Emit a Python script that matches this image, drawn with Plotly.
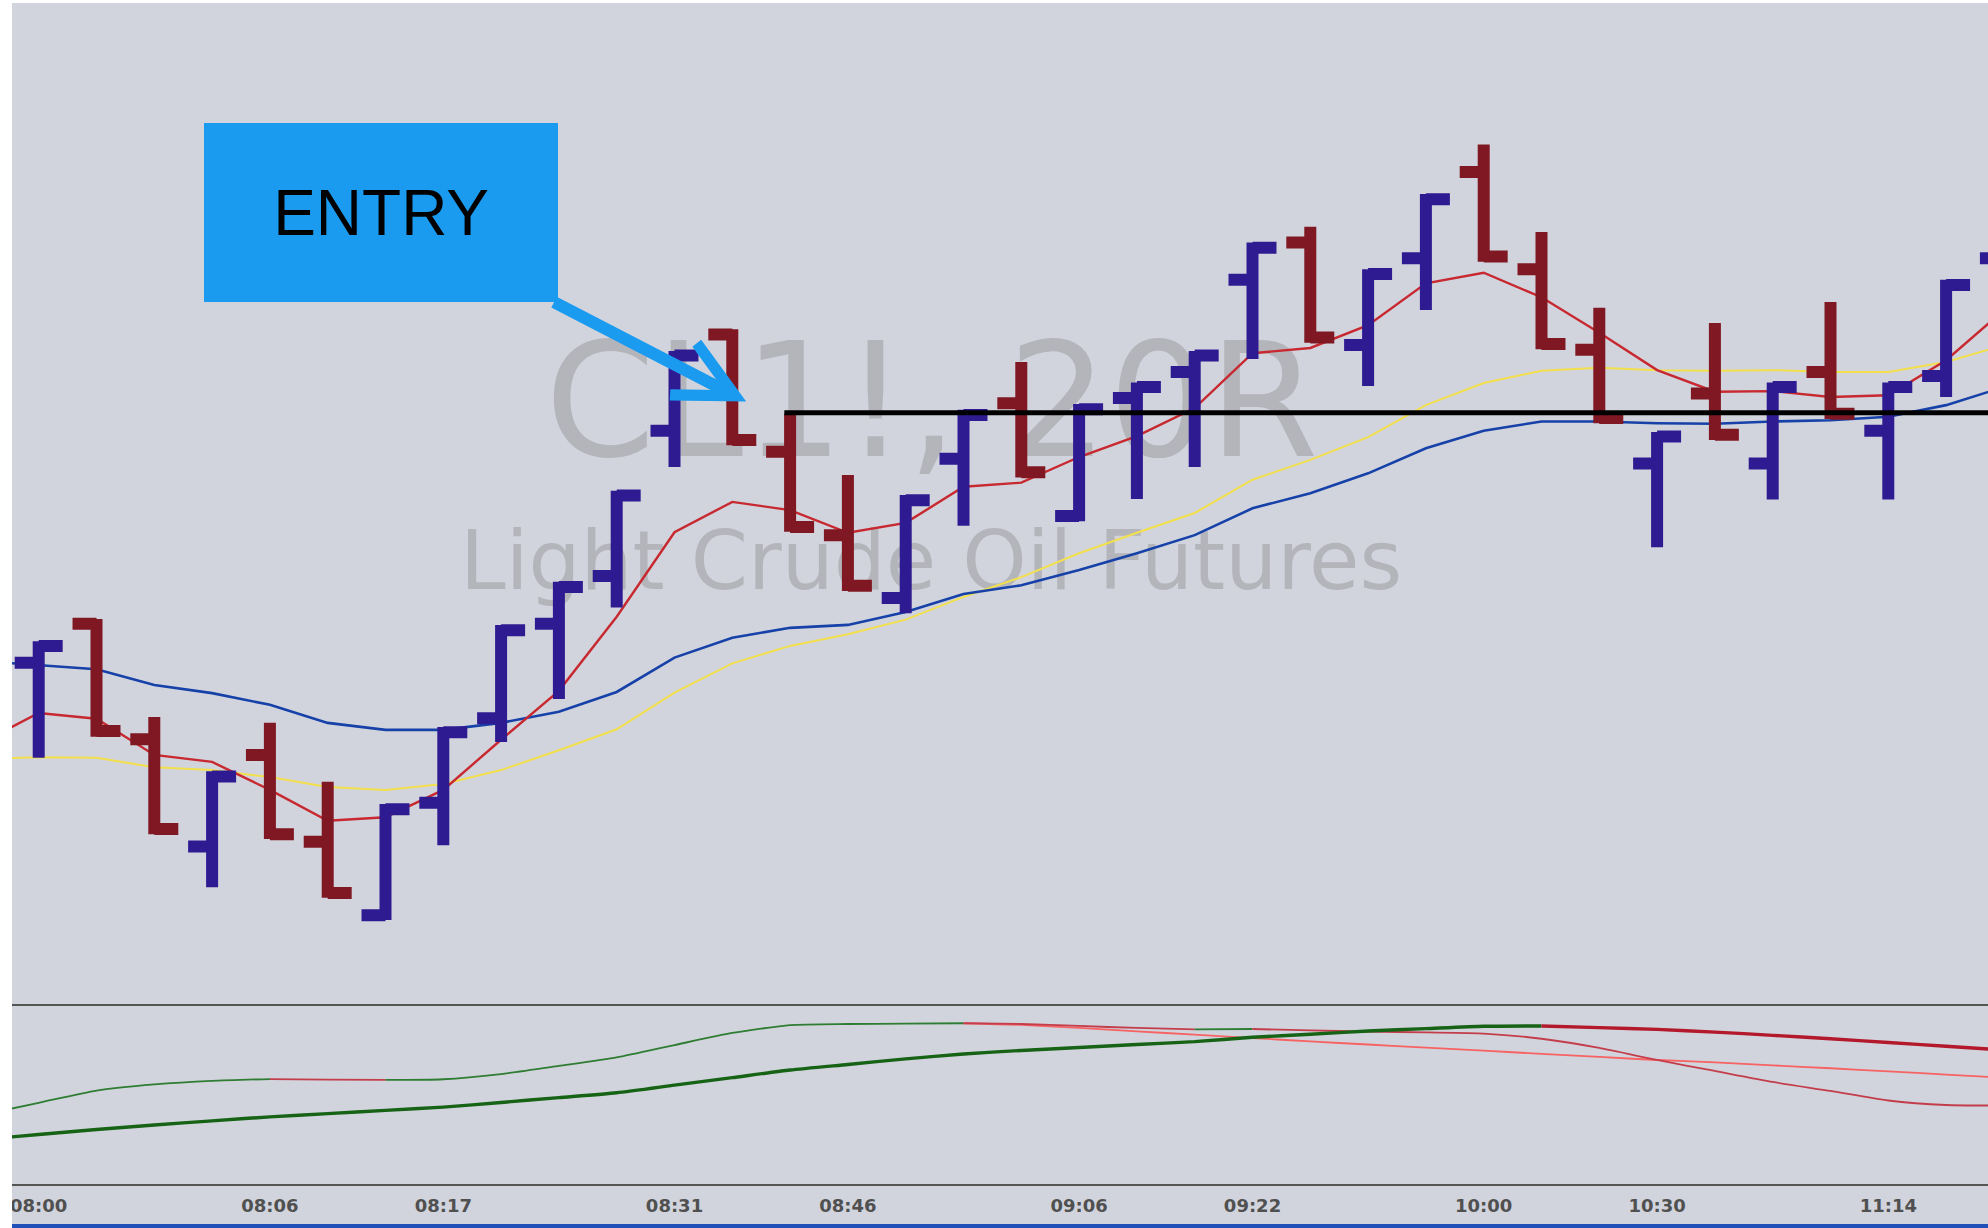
import plotly.graph_objects as go

# ---------------- data ----------------
bar_index = list(range(35))
opens = [59.571, 59.638, 59.440, 59.256, 59.413, 59.264, 59.138, 59.331, 59.476, 59.638,
         59.720, 59.969, 60.134, 59.933, 59.790, 59.682, 59.921, 60.016, 59.823, 60.025,
         60.070, 60.228, 60.292, 60.116, 60.265, 60.413, 60.246, 60.108, 59.913, 60.033,
         59.913, 60.070, 59.969, 60.063, 60.265]
highs = [59.608, 59.646, 59.478, 59.385, 59.468, 59.367, 59.329, 59.461, 59.636, 59.710,
         59.866, 60.106, 60.143, 59.998, 59.893, 59.859, 60.005, 60.087, 60.015, 60.052,
         60.106, 60.292, 60.319, 60.246, 60.375, 60.460, 60.310, 60.180, 59.967, 60.154,
         60.052, 60.190, 60.052, 60.228, 60.450]
lows = [59.408, 59.444, 59.277, 59.186, 59.269, 59.168, 59.130, 59.258, 59.435, 59.509,
        59.666, 59.907, 59.944, 59.796, 59.694, 59.656, 59.806, 59.889, 59.814, 59.852,
        59.907, 60.092, 60.120, 60.046, 60.176, 60.259, 60.109, 59.982, 59.769, 59.953,
        59.851, 59.989, 59.851, 60.027, 60.250]
closes = [59.600, 59.454, 59.286, 59.376, 59.277, 59.176, 59.320, 59.452, 59.627, 59.701,
          59.858, 60.098, 59.953, 59.804, 59.703, 59.850, 59.996, 59.898, 60.006, 60.044,
          60.098, 60.283, 60.129, 60.238, 60.366, 60.268, 60.118, 59.991, 59.959, 59.962,
          60.044, 59.998, 60.044, 60.219, 60.440]

ma_index = list(range(-1, 35))
ma_fast = [59.433, 59.485, 59.475, 59.413, 59.401, 59.353, 59.300, 59.306, 59.353, 59.439,
           59.523, 59.650, 59.795, 59.847, 59.833, 59.794, 59.811, 59.873, 59.880, 59.924,
           59.960, 60.008, 60.102, 60.111, 60.150, 60.222, 60.240, 60.198, 60.137, 60.073,
           60.036, 60.037, 60.027, 60.030, 60.090, 60.176]
ma_mid = [59.406, 59.409, 59.408, 59.392, 59.387, 59.375, 59.358, 59.353, 59.363, 59.387,
          59.421, 59.457, 59.520, 59.570, 59.600, 59.620, 59.645, 59.684, 59.718, 59.759,
          59.794, 59.828, 59.885, 59.919, 59.958, 60.013, 60.051, 60.072, 60.077, 60.073,
          60.072, 60.073, 60.070, 60.070, 60.087, 60.116]
ma_slow = [59.574, 59.567, 59.560, 59.533, 59.519, 59.499, 59.468, 59.456, 59.456, 59.468,
           59.487, 59.521, 59.580, 59.614, 59.631, 59.636, 59.658, 59.689, 59.704, 59.730,
           59.759, 59.790, 59.836, 59.862, 59.896, 59.939, 59.969, 59.985, 59.985, 59.982,
           59.981, 59.985, 59.987, 59.993, 60.013, 60.044]

osc_index = list(range(-1, 35))
osc_fast = [38.3, 45.1, 51.9, 55.3, 57.3, 58.3, 58.0, 57.8, 58.2, 61.1,
            65.6, 70.3, 77.2, 83.9, 88.3, 88.9, 89.1, 89.3, 88.9, 87.8,
            86.7, 85.9, 86.1, 85.3, 84.7, 84.2, 83.6, 80.7, 75.6, 68.9,
            62.8, 56.7, 51.7, 46.4, 43.9, 43.6]
osc_slow = [24.7, 27.5, 30.3, 32.8, 35.1, 37.3, 39.1, 40.9, 42.7, 45.3,
            48.0, 50.7, 54.9, 59.1, 63.3, 66.4, 69.5, 72.2, 74.2, 75.8,
            77.5, 79.1, 81.5, 83.2, 85.0, 86.3, 87.6, 87.8, 86.9, 85.9,
            84.4, 82.6, 80.7, 78.6, 76.5, 74.4]
signal_index = list(range(16, 35))
osc_signal = [89.3, 88.4, 86.7, 84.8, 83.0, 81.1, 79.2, 77.5, 75.8, 74.1,
              72.3, 70.6, 68.9, 67.6, 65.9, 64.3, 62.6, 60.8, 59.1]

time_tick_index = [0, 4, 7, 11, 14, 18, 21, 25, 28, 32]
time_tick_labels = ["08:00", "08:06", "08:17", "08:31", "08:46",
                    "09:06", "09:22", "10:00", "10:30", "11:14"]

entry_level = 60.00
entry_level_start = 12.9
entry_bar_tip = (12.24, 60.019)

# ---------------- styling ----------------
BG = "#D1D4DD"
UP = "#2F1B91"
DOWN = "#801823"
X_RANGE = [-0.462, 33.725]
Y_RANGE = [58.9858, 60.7027]
LOWER_TOP = 0.15241


def slope_segments(xs, ys):
    segs = []
    cx, cy = [xs[0], xs[1]], [ys[0], ys[1]]
    cur = ys[1] >= ys[0]
    for i in range(2, len(xs)):
        up = ys[i] >= ys[i - 1]
        if up == cur:
            cx.append(xs[i]); cy.append(ys[i])
        else:
            segs.append((cur, cx, cy))
            cx, cy = [xs[i - 1], xs[i]], [ys[i - 1], ys[i]]
            cur = up
    segs.append((cur, cx, cy))
    return segs


fig = go.Figure()

# watermark (behind everything in the main pane)
fig.add_trace(go.Scatter(x=[15.45], y=[59.994], mode="text", text=["CL1!, 20R"],
                         textfont=dict(family="DejaVu Sans", size=158, color="#B4B5BA"),
                         hoverinfo="skip", showlegend=False, xaxis="x", yaxis="y"))
fig.add_trace(go.Scatter(x=[15.44], y=[59.732], mode="text", text=["Light Crude Oil Futures"],
                         textfont=dict(family="DejaVu Sans", size=82, color="#B4B5BA"),
                         hoverinfo="skip", showlegend=False, xaxis="x", yaxis="y"))

# moving averages
fig.add_trace(go.Scatter(x=ma_index, y=ma_mid, mode="lines",
                         line=dict(color="#F3E04C", width=2), hoverinfo="skip",
                         showlegend=False, xaxis="x", yaxis="y"))
fig.add_trace(go.Scatter(x=ma_index, y=ma_slow, mode="lines",
                         line=dict(color="#1641A8", width=2.6), hoverinfo="skip",
                         showlegend=False, xaxis="x", yaxis="y"))
fig.add_trace(go.Scatter(x=ma_index, y=ma_fast, mode="lines",
                         line=dict(color="#C8282F", width=2.4), hoverinfo="skip",
                         showlegend=False, xaxis="x", yaxis="y"))

# range bars (overlay subplot so they sit above the averages)
fig.add_trace(go.Ohlc(x=bar_index, open=opens, high=highs, low=lows, close=closes,
                      increasing=dict(line=dict(color=UP, width=12)),
                      decreasing=dict(line=dict(color=DOWN, width=12)),
                      tickwidth=0.415, showlegend=False, hoverinfo="skip",
                      xaxis="x3", yaxis="y3"))

# lower pane oscillator
fig.add_trace(go.Scatter(x=signal_index, y=osc_signal, mode="lines",
                         line=dict(color="#F76262", width=1.8, shape="spline", smoothing=0.6),
                         hoverinfo="skip", showlegend=False, xaxis="x2", yaxis="y2"))
for up, sx, sy in slope_segments(osc_index, osc_fast):
    fig.add_trace(go.Scatter(x=sx, y=sy, mode="lines",
                             line=dict(color="#2E7D32" if up else "#C43D4B", width=1.8,
                                       shape="spline", smoothing=0.6),
                             hoverinfo="skip", showlegend=False, xaxis="x2", yaxis="y2"))
for up, sx, sy in slope_segments(osc_index, osc_slow):
    fig.add_trace(go.Scatter(x=sx, y=sy, mode="lines",
                             line=dict(color="#166316" if up else "#B3182B", width=3.4,
                                       shape="spline", smoothing=0.6),
                             hoverinfo="skip", showlegend=False, xaxis="x2", yaxis="y2"))

# entry level line
fig.add_shape(type="line", xref="x", yref="y", x0=entry_level_start, x1=X_RANGE[1],
              y0=entry_level, y1=entry_level, line=dict(color="black", width=5), layer="above")

# label strip background + bottom blue bar + white left strip
fig.add_shape(type="rect", xref="paper", yref="paper", x0=0, x1=1, y0=-0.0339, y1=0,
              fillcolor=BG, line=dict(width=0), layer="below")
fig.add_shape(type="rect", xref="paper", yref="paper", x0=0, x1=1, y0=-0.0373, y1=-0.0339,
              fillcolor="#2150B8", line=dict(width=0), layer="above")
fig.add_shape(type="rect", xref="paper", yref="paper", x0=-0.0062, x1=0, y0=-0.034, y1=0,
              fillcolor="white", line=dict(width=0), layer="above")

# ENTRY callout
fig.add_annotation(x=entry_bar_tip[0], y=entry_bar_tip[1], xref="x", yref="y",
                   ax=-365, ay=-189, text="ENTRY", showarrow=True,
                   arrowhead=5, arrowsize=0.95, arrowwidth=12, arrowcolor="#1A9BF0",
                   bgcolor="#1A9BF0", width=354, height=179, borderpad=0, borderwidth=0,
                   font=dict(family="Liberation Sans, Arial", size=64, color="black"),
                   align="center", valign="middle")

axis_common = dict(showgrid=False, zeroline=False, fixedrange=True, automargin=False)
fig.update_layout(
    width=1988, height=1228,
    margin=dict(l=12, r=0, t=3, b=44, pad=0, autoexpand=False),
    paper_bgcolor="white", plot_bgcolor=BG,
    showlegend=False,
    xaxis=dict(domain=[0, 1], range=X_RANGE, anchor="y", showticklabels=False,
               showline=True, linecolor="#555555", linewidth=2, ticks="",
               rangeslider=dict(visible=False), **axis_common),
    yaxis=dict(domain=[LOWER_TOP, 1], range=Y_RANGE, anchor="x", showticklabels=False,
               ticks="", **axis_common),
    xaxis3=dict(overlaying="x", range=X_RANGE, anchor="y3", visible=False,
                rangeslider=dict(visible=False), **axis_common),
    yaxis3=dict(overlaying="y", range=Y_RANGE, anchor="x3", visible=False, **axis_common),
    xaxis2=dict(domain=[0, 1], range=X_RANGE, anchor="y2", showline=True,
                linecolor="#555555", linewidth=2, ticks="",
                tickmode="array", tickvals=time_tick_index, ticktext=time_tick_labels,
                tickfont=dict(family="DejaVu Sans", size=18, color="#505050", weight="bold"),
                ticklabelstandoff=4, **axis_common),
    yaxis2=dict(domain=[0, LOWER_TOP], range=[0, 100], anchor="x2", showticklabels=False,
                ticks="", **axis_common),
)

fig.write_html("out.html", config={"displayModeBar": False},
               post_script="document.body.style.margin='0';"
                           "document.body.style.overflow='hidden';")
